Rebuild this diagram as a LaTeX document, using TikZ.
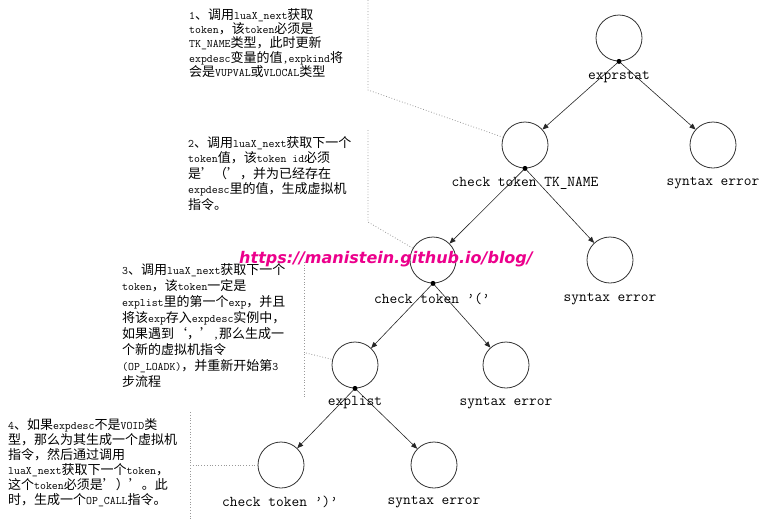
\documentclass[tikz,border=0pt]{standalone}
\usepackage{fontspec}
\setmainfont{Noto Sans CJK SC}
\newfontfamily\wmfont{DejaVu Sans}
\usetikzlibrary{arrows.meta}
\newcommand\ttx[1]{{\fontsize{11.5}{15}\ttfamily #1}}
\begin{document}
\begin{tikzpicture}[x=1pt,y=-1pt,
  state/.style={circle,draw=black!80,line width=0.8pt,minimum size=46pt,inner sep=0pt},
  lbl/.style={font=\fontsize{15}{15}\ttfamily,inner sep=0pt},
  edge/.style={draw=black!85,line width=0.6pt,-{Triangle[length=6pt,width=5pt]}},
  dotmark/.style={circle,fill=black,minimum size=5pt,inner sep=0pt},
  note/.style={align=left,anchor=north west,inner sep=0pt},
  callout/.style={draw=black!40,dotted,line width=0.8pt}]
\useasboundingbox (0,0) rectangle (770,520);

% states
\node[state] (n1) at (619,38) {};
\node[state] (e1) at (713,145) {};
\node[state] (n2) at (525,145) {};
\node[state] (e2) at (610,260) {};
\node[state] (n3) at (433,260) {};
\node[state] (e3) at (506,365) {};
\node[state] (n4) at (355,365) {};
\node[state] (e4) at (434,465) {};
\node[state] (n5) at (281,465) {};

% edges
\draw[edge] (n1.south) -- (n2);
\draw[edge] (n1.south) -- (e1);
\draw[edge] (n2.south) -- (n3);
\draw[edge] (n2.south) -- (e2);
\draw[edge] (n3.south) -- (n4);
\draw[edge] (n3.south) -- (e3);
\draw[edge] (n4.south) -- (n5);
\draw[edge] (n4.south) -- (e4);

% dots
\node[dotmark] (d1) at (n1.south) {};
\node[dotmark] (d2) at (n2.south) {};
\node[dotmark] (d3) at (n3.south) {};
\node[dotmark] (d4) at (n4.south) {};

% labels
\node[lbl] (l1) at (619,77) {exprstat};
\node[lbl] (l2) at (525,183) {check token TK\_NAME};
\node[lbl] (le1) at (713,183) {syntax error};
\node[lbl] (l3) at (432,299) {check token ’(’};
\node[lbl] (le2) at (610,299) {syntax error};
\node[lbl] (l4) at (355,403) {explist};
\node[lbl] (le3) at (506,403) {syntax error};
\node[lbl] (l5) at (280,502) {check token ’)’};
\node[lbl] (le4) at (434,502) {syntax error};

% notes
\node[note,font=\fontsize{13}{14.3}\selectfont] (t1) at (189,8) {\ttx{1}、调用\ttx{luaX\_next}获取\\
\ttx{token}，该\ttx{token}必须是\\
\ttx{TK\_NAME}类型，此时更新\\
\ttx{expdesc}变量的值\ttx{,expkind}将\\
会是\ttx{VUPVAL}或\ttx{VLOCAL}类型};

\node[note,font=\fontsize{13}{15.5}\selectfont] (t2) at (188,136) {\ttx{2}、调用\ttx{luaX\_next}获取下一个\\
\ttx{token}值，该\ttx{token id}必须\\
是’（’，并为已经存在\\
\ttx{expdesc}里的值，生成虚拟机\\
指令。};

\node[note,font=\fontsize{13}{16}\selectfont] (t3) at (122,263) {\ttx{3}、调用\ttx{luaX\_next}获取下一个\\
\ttx{token}，该\ttx{token}一定是\\
\ttx{explist}里的第一个\ttx{exp}，并且\\
将该\ttx{exp}存入\ttx{expdesc}实例中，\\
如果遇到‘，’\ttx{,}那么生成一\\
个新的虚拟机指令\\
\ttx{(OP\_LOADK)}，并重新开始第\ttx{3}\\
步流程};

\node[note,font=\fontsize{13}{15}\selectfont] (t4) at (8,418) {\ttx{4}、如果\ttx{expdesc}不是\ttx{VOID}类\\
型，那么为其生成一个虚拟机\\
指令，然后通过调用\\
\ttx{luaX\_next}获取下一个\ttx{token}，\\
这个\ttx{token}必须是’）’。此\\
时，生成一个\ttx{OP\_CALL}指令。};

% callouts
\coordinate (c1a) at (368,0);
\coordinate (c1b) at (368,90);
\draw[callout] (c1a) -- (c1b) -- (n2);
\coordinate (c2a) at (368,130);
\coordinate (c2b) at (368,222);
\draw[callout] (c2a) -- (c2b) -- (n3);
\coordinate (c3a) at (304,262);
\coordinate (c3b) at (304,397);
\coordinate (c3c) at (306,353);
\draw[callout] (c3a) -- (c3b);
\draw[callout] (c3c) -- (n4);
\coordinate (c4a) at (190,412);
\coordinate (c4b) at (190,520);
\coordinate (c4c) at (190,465);
\draw[callout] (c4a) -- (c4b);
\draw[callout] (c4c) -- (n5);

% watermark
\node[inner sep=0pt,text=magenta,font=\fontsize{16}{16}\wmfont\bfseries\itshape] (wm) at (386,259) {https://manistein.github.io/blog/};
\end{tikzpicture}
\end{document}
